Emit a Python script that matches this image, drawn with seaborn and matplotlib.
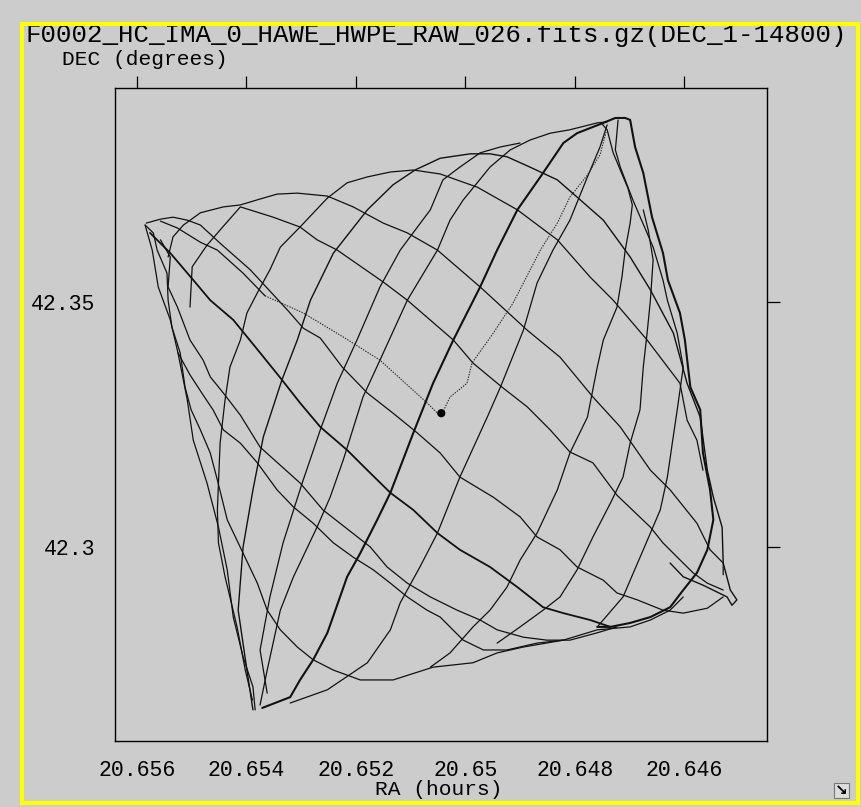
import matplotlib
matplotlib.use("Agg")
import matplotlib.pyplot as plt
import seaborn as sns
from matplotlib.patches import Rectangle

sns.set_style("white")
plt.rcParams["font.family"] = ["Liberation Mono", "DejaVu Sans Mono"]

# ---------------- data (RA in hours, DEC in degrees) ----------------
title = "F0002_HC_IMA_0_HAWE_HWPE_RAW_026.fits.gz(DEC_1-14800)"
ra_ticks = [20.656, 20.654, 20.652, 20.65, 20.648, 20.646]
ra_tick_labels = ["20.656", "20.654", "20.652", "20.65", "20.648", "20.646"]
dec_ticks = [42.3, 42.35]
dec_tick_labels = ["42.3", "42.35"]
ra_limits = [20.65640, 20.64449]
dec_limits = [42.26057, 42.3935]

s1_ra = [20.65388, 20.65399, 20.65415, 20.65406, 20.65388, 20.65369, 20.65335, 20.65307, 20.65283, 20.65241,
         20.65179, 20.65132, 20.65092, 20.65046, 20.64991, 20.64955, 20.64924, 20.64882, 20.64832, 20.64796,
         20.64748, 20.64699, 20.64662, 20.64620, 20.64595, 20.64571, 20.64558, 20.64547, 20.64531, 20.64529,
         20.64516, 20.64504, 20.64513, 20.64522, 20.64566, 20.64602, 20.64626]
s1_dec = [42.2669, 42.2750, 42.2872, 42.3001, 42.3117, 42.3225, 42.3341, 42.3422, 42.3503, 42.3599,
          42.3687, 42.3738, 42.3768, 42.3792, 42.3801, 42.3801, 42.3795, 42.3774, 42.3748, 42.3713,
          42.3666, 42.3591, 42.3524, 42.3436, 42.3334, 42.3265, 42.3157, 42.3102, 42.3041, 42.2968,
          42.2913, 42.2893, 42.2882, 42.2899, 42.2923, 42.2940, 42.2968]

s2_ra = [20.65362, 20.65375, 20.65357, 20.65333, 20.65298, 20.65265, 20.65234, 20.65198, 20.65156, 20.65119,
         20.65064, 20.65041, 20.65010, 20.64973, 20.64936, 20.64900]
s2_dec = [42.2703, 42.2791, 42.2899, 42.3009, 42.3131, 42.3239, 42.3334, 42.3422, 42.3530, 42.3605,
          42.3687, 42.3748, 42.3774, 42.3803, 42.3815, 42.3823]

s3_ra = [20.65375, 20.65362, 20.65338, 20.65314, 20.65271, 20.65247, 20.65223, 20.65187, 20.65156, 20.65106,
         20.65051, 20.65028, 20.65004, 20.64955, 20.64918, 20.64882, 20.64845, 20.64809, 20.64759, 20.64741]
s3_dec = [42.2679, 42.2750, 42.2872, 42.2940, 42.3041, 42.3102, 42.3178, 42.3306, 42.3381, 42.3503,
          42.3605, 42.3666, 42.3707, 42.3774, 42.3809, 42.3829, 42.3843, 42.3850, 42.3864, 42.3866]

s4_ra = [20.65371, 20.65320, 20.65302, 20.65278, 20.65252, 20.65216, 20.65192, 20.65161, 20.65137, 20.65095,
         20.65059, 20.65022, 20.64973, 20.64942, 20.64905, 20.64863, 20.64821, 20.64796, 20.64748, 20.64726,
         20.64708, 20.64699, 20.64690, 20.64675, 20.64659, 20.64639, 20.64630, 20.64608, 20.64599, 20.64589,
         20.64571, 20.64566, 20.64553, 20.64547, 20.64558, 20.64577, 20.64602, 20.64626, 20.64662, 20.64699,
         20.64735, 20.64759]
s4_dec = [42.2673, 42.2695, 42.2730, 42.2771, 42.2826, 42.2940, 42.2988, 42.3056, 42.3111, 42.3233,
          42.3334, 42.3422, 42.3530, 42.3605, 42.3687, 42.3754, 42.3823, 42.3843, 42.3864, 42.3874,
          42.3874, 42.3870, 42.3815, 42.3762, 42.3672, 42.3599, 42.3544, 42.3477, 42.3422, 42.3326,
          42.3280, 42.3192, 42.3117, 42.3056, 42.2995, 42.2948, 42.2913, 42.2878, 42.2858, 42.2846,
          42.2838, 42.2838]

s5_ra = [20.65042, 20.65028, 20.64997, 20.64988, 20.64949, 20.64913, 20.64863, 20.64832, 20.64809, 20.64777,
         20.64754, 20.64743]
s5_dec = [42.3273, 42.3306, 42.3334, 42.3375, 42.3436, 42.3497, 42.3605, 42.3660, 42.3713, 42.3758,
          42.3799, 42.3845]

s6_ra = [20.65320, 20.65252, 20.65179, 20.65137, 20.65119, 20.65083, 20.65051, 20.65010, 20.64960, 20.64936,
         20.64894, 20.64869, 20.64840, 20.64809, 20.64777, 20.64754, 20.64741]
s6_dec = [42.2683, 42.2710, 42.2765, 42.2832, 42.2887, 42.2960, 42.3029, 42.3143, 42.3265, 42.3326,
          42.3442, 42.3538, 42.3605, 42.3666, 42.3754, 42.3815, 42.3860]

s7_ra = [20.65064, 20.65028, 20.64986, 20.64955, 20.64924, 20.64900, 20.64869, 20.64832, 20.64809, 20.64777,
         20.64759, 20.64748, 20.64723, 20.64714, 20.64708, 20.64699, 20.64695, 20.64703, 20.64717, 20.64730,
         20.64741, 20.64752]
s7_dec = [42.2756, 42.2785, 42.2838, 42.2872, 42.2919, 42.2974, 42.3029, 42.3117, 42.3192, 42.3265,
          42.3367, 42.3422, 42.3489, 42.3550, 42.3605, 42.3660, 42.3697, 42.3731, 42.3768, 42.3803,
          42.3850, 42.3864]

s8_ra = [20.64942, 20.64900, 20.64858, 20.64827, 20.64796, 20.64767, 20.64735, 20.64712, 20.64699, 20.64681,
         20.64675, 20.64668, 20.64662, 20.64657, 20.64666, 20.64675]
s8_dec = [42.2805, 42.2838, 42.2872, 42.2899, 42.2954, 42.3021, 42.3090, 42.3143, 42.3212, 42.3280,
          42.3367, 42.3436, 42.3503, 42.3585, 42.3646, 42.3687]

s9_ra = [20.64759, 20.64712, 20.64675, 20.64644, 20.64631, 20.64622, 20.64613, 20.64602, 20.64613, 20.64631,
         20.64639, 20.64657, 20.64694, 20.64717, 20.64726, 20.64721]
s9_dec = [42.2838, 42.2899, 42.2995, 42.3076, 42.3143, 42.3212, 42.3280, 42.3367, 42.3436, 42.3503,
          42.3544, 42.3611, 42.3707, 42.3774, 42.3809, 42.3870]

s11_ra = [20.65252, 20.65302, 20.65338, 20.65357, 20.65380, 20.65399, 20.65411, 20.65430, 20.65439, 20.65448,
          20.65453, 20.65451, 20.65439, 20.65417, 20.65402, 20.65389]
s11_dec = [42.3711, 42.3652, 42.3611, 42.3565, 42.3518, 42.3477, 42.3422, 42.3367, 42.3300, 42.3212,
           42.3076, 42.3009, 42.2940, 42.2838, 42.2750, 42.2689]

s12_ra = [20.65585, 20.65572, 20.65561, 20.65539, 20.65525, 20.65508, 20.65497, 20.65472, 20.65451, 20.65435,
          20.65424, 20.65406, 20.65388, 20.65384]
s12_dec = [42.3656, 42.3605, 42.3530, 42.3463, 42.3396, 42.3300, 42.3218, 42.3131, 42.3041, 42.2954,
           42.2858, 42.2777, 42.2716, 42.2669]

n1_ra = [20.65583, 20.65557, 20.65534, 20.65508, 20.65484, 20.65448, 20.65393, 20.65325, 20.65296, 20.65265,
         20.65225, 20.65179, 20.65132, 20.65088, 20.65046, 20.65010, 20.64949, 20.64900, 20.64869, 20.64827,
         20.64796, 20.64748, 20.64723, 20.64686, 20.64639, 20.64602, 20.64558, 20.64529]
n1_dec = [42.3660, 42.3668, 42.3672, 42.3666, 42.3656, 42.3619, 42.3565, 42.3483, 42.3446, 42.3426,
          42.3367, 42.3314, 42.3273, 42.3233, 42.3192, 42.3143, 42.3102, 42.3062, 42.3021, 42.2995,
          42.2960, 42.2933, 42.2907, 42.2893, 42.2872, 42.2866, 42.2876, 42.2899]

n2a_ra = [20.65557, 20.65526, 20.65484, 20.65453, 20.65406, 20.65366]
n2a_dec = [42.3664, 42.3650, 42.3621, 42.3605, 42.3558, 42.3512]

n2_ra = [20.65366, 20.65296, 20.65223, 20.65156, 20.65070, 20.65051]
n2_dec = [42.3512, 42.3477, 42.3428, 42.3381, 42.3294, 42.3273]

n3_ra = [20.65576, 20.65539, 20.65497, 20.65466, 20.65424, 20.65375, 20.65338, 20.65302, 20.65265, 20.65216,
         20.65179, 20.65137, 20.65095, 20.65051, 20.65010, 20.64955, 20.64905, 20.64858, 20.64821, 20.64772,
         20.64735]
n3_dec = [42.3640, 42.3599, 42.3544, 42.3503, 42.3463, 42.3396, 42.3345, 42.3294, 42.3245, 42.3198,
          42.3157, 42.3111, 42.3076, 42.3029, 42.2995, 42.2960, 42.2919, 42.2878, 42.2866, 42.2852,
          42.2838]

n4_ra = [20.65503, 20.65499, 20.65472, 20.65448, 20.65411, 20.65351, 20.65302, 20.65271, 20.65234, 20.65150,
         20.65106, 20.65022, 20.64986, 20.64933, 20.64887, 20.64845, 20.64809, 20.64767, 20.64723, 20.64662,
         20.64639, 20.64613, 20.64584, 20.64558, 20.64529]
n4_dec = [42.3489, 42.3571, 42.3615, 42.3646, 42.3693, 42.3672, 42.3652, 42.3626, 42.3605, 42.3540,
          42.3503, 42.3422, 42.3375, 42.3326, 42.3286, 42.3239, 42.3194, 42.3172, 42.3106, 42.3041,
          42.3009, 42.2980, 42.2948, 42.2927, 42.2913]

n5_ra = [20.65543, 20.65534, 20.65515, 20.65484, 20.65442, 20.65411, 20.65375, 20.65344, 20.65307, 20.65252,
         20.65205, 20.65150, 20.65106, 20.65051, 20.64973, 20.64887, 20.64827, 20.64767, 20.64717, 20.64662,
         20.64626, 20.64577, 20.64553, 20.64529, 20.64529]
n5_dec = [42.3591, 42.3632, 42.3656, 42.3681, 42.3693, 42.3697, 42.3709, 42.3719, 42.3721, 42.3715,
          42.3693, 42.3660, 42.3640, 42.3605, 42.3530, 42.3442, 42.3387, 42.3306, 42.3245, 42.3157,
          42.3117, 42.3049, 42.2995, 42.2968, 42.2944]

n6_ra = [20.65252, 20.65216, 20.65179, 20.65137, 20.65095, 20.65046, 20.64978, 20.64905, 20.64832, 20.64772,
         20.64730, 20.64668, 20.64608, 20.64595, 20.64577, 20.64566]
n6_dec = [42.3711, 42.3742, 42.3754, 42.3764, 42.3768, 42.3760, 42.3733, 42.3687, 42.3626, 42.3550,
          42.3503, 42.3422, 42.3334, 42.3259, 42.3218, 42.3157]

n8_ra = [20.65557, 20.65539, 20.65543, 20.65526, 20.65503, 20.65479, 20.65466, 20.65442, 20.65411, 20.65375,
         20.65302, 20.65260, 20.65174, 20.65143, 20.65106, 20.65064, 20.65015, 20.64973, 20.64942, 20.64894,
         20.64851, 20.64809, 20.64759, 20.64723]
n8_dec = [42.3626, 42.3591, 42.3530, 42.3489, 42.3422, 42.3381, 42.3347, 42.3314, 42.3269, 42.3204,
          42.3131, 42.3076, 42.3001, 42.2960, 42.2927, 42.2899, 42.2872, 42.2852, 42.2832, 42.2817,
          42.2811, 42.2811, 42.2826, 42.2838]

n9_ra = [20.65525, 20.65503, 20.65479, 20.65461, 20.65442, 20.65411, 20.65380, 20.65344, 20.65314, 20.65278,
         20.65241, 20.65205, 20.65168, 20.65137, 20.65106, 20.65070, 20.65046, 20.65004, 20.64967, 20.64924,
         20.64869, 20.64821]
n9_dec = [42.3396, 42.3351, 42.3310, 42.3280, 42.3239, 42.3212, 42.3172, 42.3117, 42.3082, 42.3049,
          42.3009, 42.2980, 42.2954, 42.2927, 42.2899, 42.2872, 42.2858, 42.2811, 42.2791, 42.2791,
          42.2805, 42.2811]

n10_ra = [20.65585, 20.65570, 20.65563, 20.65545, 20.65543, 20.65536, 20.65521, 20.65512, 20.65501, 20.65484,
          20.65466, 20.65453, 20.65435, 20.65406, 20.65380, 20.65362, 20.65338, 20.65307, 20.65278, 20.65241,
          20.65192, 20.65132, 20.65059, 20.64986, 20.64942, 20.64894, 20.64821, 20.64759, 20.64699, 20.64662,
          20.64626, 20.64602]
n10_dec = [42.3656, 42.3640, 42.3605, 42.3558, 42.3503, 42.3448, 42.3396, 42.3326, 42.3280, 42.3239,
           42.3192, 42.3137, 42.3056, 42.2988, 42.2927, 42.2872, 42.2832, 42.2797, 42.2771, 42.2750,
           42.2730, 42.2730, 42.2756, 42.2765, 42.2785, 42.2797, 42.2811, 42.2832, 42.2838, 42.2852,
           42.2872, 42.2899]

start_ra = [20.65044]
start_dec = [42.3273]

# ---------------- figure ----------------
W, H = 861, 807
fig = plt.figure(figsize=(W / 100, H / 100), dpi=100, facecolor="#cccccc")
ax = fig.add_axes([115 / W, 1 - 741 / H, (767 - 115) / W, (741 - 88) / H])
ax.set_facecolor("#cccccc")

solid_strokes = [(s1_ra, s1_dec, 1.0), (s2_ra, s2_dec, 0.9), (s3_ra, s3_dec, 0.9),
                 (s4_ra, s4_dec, 1.5), (s6_ra, s6_dec, 0.9), (s7_ra, s7_dec, 0.9),
                 (s8_ra, s8_dec, 0.9), (s9_ra, s9_dec, 0.9), (s11_ra, s11_dec, 0.9),
                 (s12_ra, s12_dec, 0.9), (n1_ra, n1_dec, 0.9), (n2a_ra, n2a_dec, 0.9),
                 (n3_ra, n3_dec, 1.3), (n4_ra, n4_dec, 0.9), (n5_ra, n5_dec, 0.9),
                 (n6_ra, n6_dec, 0.9), (n8_ra, n8_dec, 0.9), (n9_ra, n9_dec, 0.9),
                 (n10_ra, n10_dec, 0.9)]
dotted_strokes = [(s5_ra, s5_dec), (n2_ra, n2_dec)]

for ra, dec, lw in solid_strokes:
    n = min(len(ra), len(dec))
    sns.lineplot(x=ra[:n], y=dec[:n], sort=False, estimator=None, errorbar=None,
                 color="#111111", linewidth=lw, ax=ax, legend=False)
for ra, dec in dotted_strokes:
    n = min(len(ra), len(dec))
    sns.lineplot(x=ra[:n], y=dec[:n], sort=False, estimator=None, errorbar=None,
                 color="#222222", linewidth=0.8, linestyle=(0, (1.2, 1.2)), ax=ax, legend=False)
sns.scatterplot(x=start_ra, y=start_dec, s=35, color="#000000", edgecolor="none",
                marker="o", ax=ax, legend=False)

ax.set_xlim(ra_limits)
ax.set_ylim(dec_limits)
ax.set_xticks(ra_ticks)
ax.set_xticklabels(ra_tick_labels)
ax.set_yticks(dec_ticks)
ax.set_yticklabels(dec_tick_labels)
ax.set_xlabel("")
ax.set_ylabel("")
for sp in ax.spines.values():
    sp.set_visible(True)
    sp.set_color("black")
    sp.set_linewidth(1.0)
ax.tick_params(axis="both", which="major", direction="out", length=9, width=0.9,
               colors="black", labelsize=15.5, top=True, right=True,
               labeltop=False, labelright=False, pad=5)

fig.text(25 / W, 1 - 42 / H, title, fontsize=18.5, ha="left", va="baseline", color="black")
fig.text(62 / W, 1 - 65 / H, "DEC (degrees)", fontsize=15.3, ha="left", va="baseline", color="black")
fig.text(375 / W, 1 - 795 / H, "RA (hours)", fontsize=15.3, ha="left", va="baseline", color="black")

# yellow frame
fig.patches.append(Rectangle((22 / W, 1 - 803 / H), (858 - 22) / W, (803 - 24) / H,
                             transform=fig.transFigure, fill=False, edgecolor="#ffff00",
                             linewidth=2.9, zorder=10))
# small resize icon
fig.patches.append(Rectangle((834 / W, 1 - 798 / H), 15 / W, 15 / H, transform=fig.transFigure,
                             facecolor="#dddddd", edgecolor="#777777", linewidth=0.8, zorder=10))
fig.text(841.5 / W, 1 - 790.5 / H, "\u2198", fontsize=11, ha="center", va="center",
         family=["DejaVu Sans"], fontweight="bold", color="black", zorder=11)

fig.savefig("out.png", dpi=100, facecolor=fig.get_facecolor())
